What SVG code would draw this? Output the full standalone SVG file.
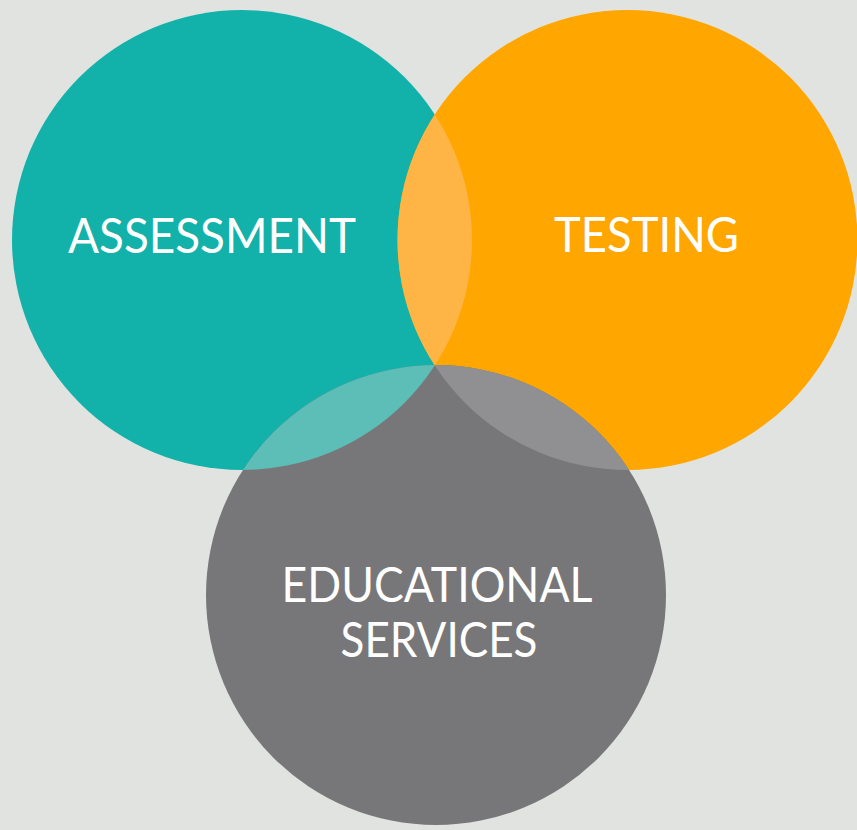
<svg xmlns="http://www.w3.org/2000/svg" width="857" height="830" viewBox="0 0 857 830">
  <defs>
    <clipPath id="clipTeal"><circle cx="242" cy="240" r="230"/></clipPath>
    <clipPath id="clipOrange"><circle cx="627.5" cy="240" r="230"/></clipPath>
  </defs>
  <style>
    .lbl { font-family: Lato, "Open Sans", "Liberation Sans", sans-serif; font-size: 48px; fill: #ffffff; text-anchor: middle; }
  </style>
  <rect x="0" y="0" width="857" height="830" fill="#E1E3E0"/>
  <g id="assessment">
    <circle cx="242" cy="240" r="230" fill="#12B1A9"/>
  </g>
  <g id="testing">
    <circle cx="627.5" cy="240" r="230" fill="#FFA700"/>
  </g>
  <g id="educational-services">
    <circle cx="436" cy="595" r="230" fill="#777779"/>
  </g>
  <g id="overlaps">
    <circle cx="627.5" cy="240" r="230" fill="#FFB545" clip-path="url(#clipTeal)"/>
    <circle cx="436" cy="595" r="230" fill="#5DBDB7" clip-path="url(#clipTeal)"/>
    <circle cx="436" cy="595" r="230" fill="#909092" clip-path="url(#clipOrange)"/>
  </g>
  <g id="labels">
    <text class="lbl" x="212" y="253" textLength="288" lengthAdjust="spacingAndGlyphs">ASSESSMENT</text>
    <text class="lbl" x="646.5" y="252" textLength="185" lengthAdjust="spacingAndGlyphs">TESTING</text>
    <text class="lbl" x="437" y="602" textLength="311" lengthAdjust="spacingAndGlyphs">EDUCATIONAL</text>
    <text class="lbl" x="439" y="657" textLength="197" lengthAdjust="spacingAndGlyphs">SERVICES</text>
  </g>
</svg>
